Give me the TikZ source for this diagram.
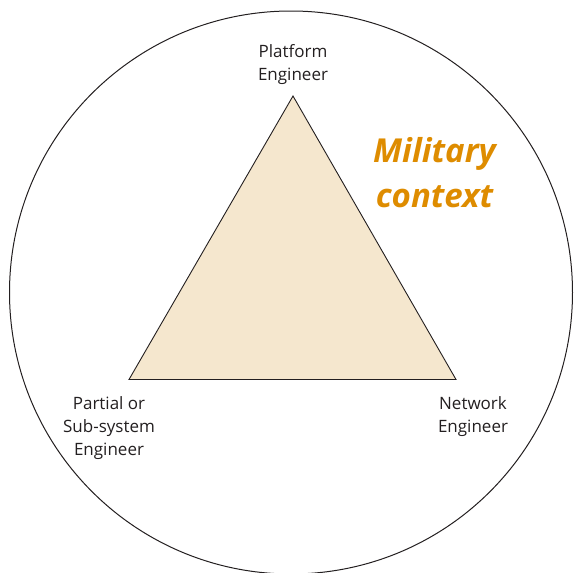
\documentclass[tikz,border=0pt]{standalone}
\usepackage{fontspec}
\setmainfont{Open Sans}
\usetikzlibrary{positioning}
\definecolor{sand}{RGB}{245,231,206}
\definecolor{amber}{RGB}{222,140,0}
\definecolor{ink}{RGB}{35,31,32}

\begin{document}
\begin{tikzpicture}[
    x=1pt, y=-1pt,
    role/.style={align=center, font=\fontsize{17}{23}\selectfont, text=ink, inner sep=0pt},
    ctx/.style={align=center, font=\fontsize{33}{45}\selectfont\bfseries\itshape, text=amber, inner sep=0pt},
    side/.style={draw=ink, line width=0.9pt, fill=sand, line join=miter}
]
    \useasboundingbox (0,0) rectangle (574,573);
    \clip (0,0) rectangle (574,573);
    \draw[ink, line width=1pt] (291,292.5) circle[radius=281.5];

    % triangle of roles
    \coordinate (top) at (293,96);
    \coordinate (left) at (129,379.5);
    \coordinate (right) at (456,379.5);
    \path[side] (top) -- (right) -- (left) -- cycle;

    \node[role] (plat) at (293,64.5) {Platform\\Engineer};
    \node[role] (part) at (109,428) {Partial or\\Sub-system\\Engineer};
    \node[role] (net) at (473,416.5) {Network\\Engineer};

    \node[ctx] (mil) at (434.5,173) {Military\\context};
\end{tikzpicture}
\end{document}
